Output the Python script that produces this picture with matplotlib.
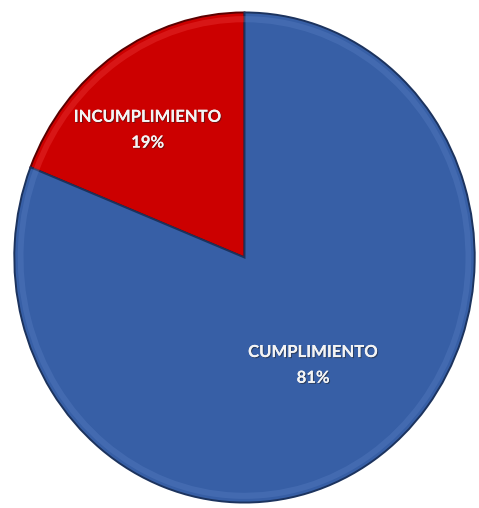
import numpy as np
import matplotlib
matplotlib.use("Agg")
import matplotlib.pyplot as plt
import matplotlib.patheffects as pe

categories = ["INCUMPLIMIENTO", "CUMPLIMIENTO"]
values = [19, 81]
colors = ["#CC0000", "#375FA6"]
edge_dark = ["#5A0000", "#1C335E"]
rim_light = ["#F04040", "#5A80C4"]
label_radius = [0.67, 0.53]
label_turn = [4.7, 0.0]  # degrees added to each wedge's mid angle

W, H = 479, 508
fig = plt.figure(figsize=(W / 100, H / 100), dpi=100)
fig.patch.set_facecolor("white")
# axes box spans the pie's bounding ellipse
ax = fig.add_axes([12 / W, 3 / H, 465 / W, 495 / H])

wedges, _ = ax.pie(values, colors=colors, startangle=90, counterclock=True,
                   radius=1.0,
                   wedgeprops=dict(edgecolor="none", linewidth=0))

# bevel: light inner rim, then dark outer outline
ax.pie(values, colors=rim_light, startangle=90, counterclock=True, radius=0.985,
       wedgeprops=dict(width=0.025, edgecolor="none", alpha=0.35))
for w, ec in zip(wedges, edge_dark):
    w.set_edgecolor(ec)
    w.set_linewidth(1.4)

ax.set_aspect("auto")
ax.set_xlim(-1.01, 1.01)
ax.set_ylim(-1.01, 1.01)
ax.axis("off")

shadow = [pe.withSimplePatchShadow(offset=(0.8, -0.8), shadow_rgbFace="#202020", alpha=0.5),
          pe.Normal()]
for w, name, val, r, turn in zip(wedges, categories, values, label_radius, label_turn):
    mid = np.deg2rad((w.theta1 + w.theta2) / 2 + turn)
    x, y = r * np.cos(mid), r * np.sin(mid)
    ax.text(x, y, f"{name}\n{val}%", ha="center", va="center", color="#F4F4F4",
            fontsize=12, fontweight="bold", family="Lato", linespacing=1.75,
            path_effects=shadow)

fig.savefig("out.png", dpi=100, facecolor="white")
